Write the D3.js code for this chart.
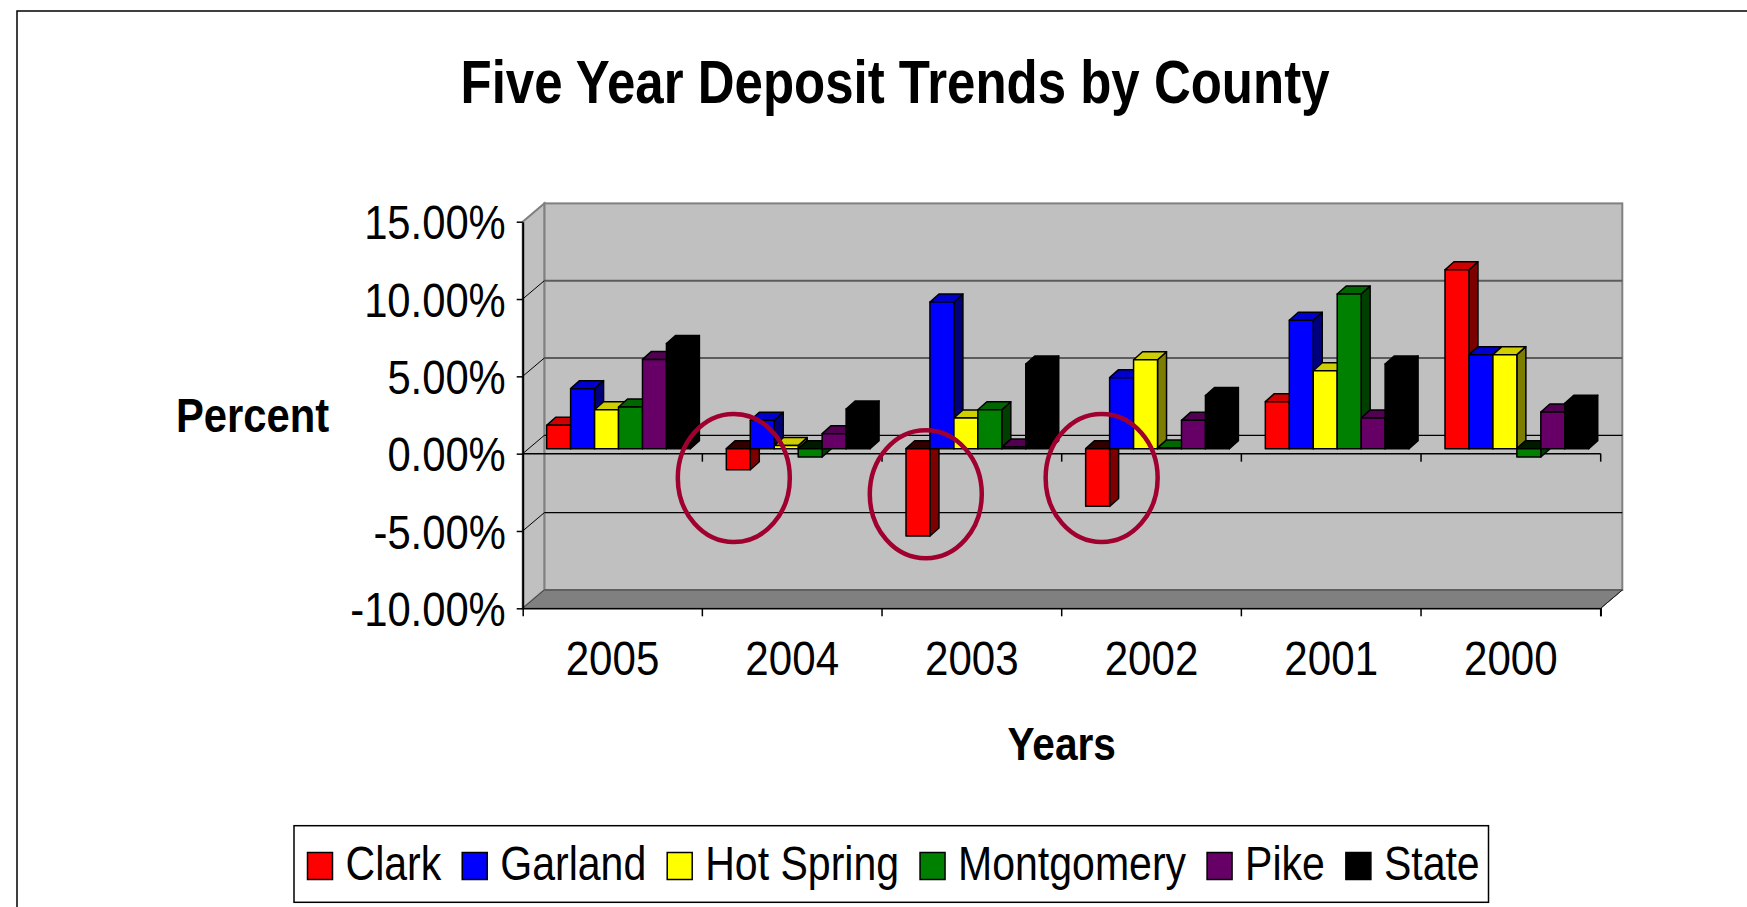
<!DOCTYPE html>
<html>
<head>
<meta charset="utf-8">
<script src="https://cdn.jsdelivr.net/npm/d3@7"></script>
<style>
  body { margin: 0; background: #fff; }
  svg text { font-family: "Liberation Sans", Arial, sans-serif; fill: #000; }
</style>
</head>
<body>
<svg id="chart" width="1747" height="907"></svg>
<script>
// data (percent change)
const years = ["2005", "2004", "2003", "2002", "2001", "2000"];
const series = ["Clark", "Garland", "Hot Spring", "Montgomery", "Pike", "State"];
const clark = [1.51, -1.36, -5.65, -3.73, 3.04, 11.57];
const garland = [3.88, 1.83, 9.48, 4.59, 8.30, 6.08];
const hotSpring = [2.52, 0.2, 1.98, 5.75, 5.04, 6.08];
const montgomery = [2.69, -0.54, 2.52, 0.05, 10.0, -0.54];
const pike = [5.77, 0.97, 0.1, 1.83, 1.98, 2.37];
const state = [6.8, 2.56, 5.47, 3.43, 5.47, 2.93];
const yTicks = [-10, -5, 0, 5, 10, 15];
// red rings drawn round the negative Clark years
const circledYears = ["2004", "2003", "2002"];
const circledValues = [-1.9, -2.95, -1.9];

const values = [clark, garland, hotSpring, montgomery, pike, state];
const colors = ["#ff0000", "#0000ff", "#ffff00", "#008000", "#660066", "#000000"];

const svg = d3.select("#chart");
const x0 = 522.7, x1 = 1600.7, yTop = 221.7, yBot = 608.3;
const dx = 21.6, dy = 18.3;       // wall depth
const sx = 6, sy = 5;             // bars sit a bit behind the front edge
const bdx = 9, bdy = 8;           // bar depth

const x = d3.scaleBand().domain(years).range([x0, x1]);
const xs = d3.scaleBand().domain(series).range([0, x.bandwidth()]).paddingOuter(0.75);
const y = d3.scaleLinear().domain([-10, 15]).range([yBot, yTop]);

// outer frame
svg.append("rect").attr("x", 17).attr("y", 11).attr("width", 1800).attr("height", 1000)
  .attr("fill", "none").attr("stroke", "#000").attr("stroke-width", 1.5);

// title
svg.append("text").attr("x", 895).attr("y", 102.5).attr("text-anchor", "middle")
  .attr("font-size", 62).attr("font-weight", "bold")
  .attr("textLength", 869).attr("lengthAdjust", "spacingAndGlyphs")
  .text("Five Year Deposit Trends by County");

// back wall
svg.append("rect").attr("x", x0 + dx).attr("y", yTop - dy)
  .attr("width", x1 - x0).attr("height", yBot - yTop)
  .attr("fill", "#c0c0c0").attr("stroke", "#808080").attr("stroke-width", 2);
// side wall
svg.append("path")
  .attr("d", `M${x0},${yTop}L${x0 + dx},${yTop - dy}L${x0 + dx},${yBot - dy}L${x0},${yBot}Z`)
  .attr("fill", "#c0c0c0").attr("stroke", "#808080").attr("stroke-width", 2);
// floor
svg.append("path")
  .attr("d", `M${x0},${yBot}L${x0 + dx},${yBot - dy}L${x1 + dx},${yBot - dy}L${x1},${yBot}Z`)
  .attr("fill", "#808080").attr("stroke", "#404040").attr("stroke-width", 1);

// gridlines on back wall and side wall
[-5, 0, 5, 10].forEach(function (v) {
  const col = v > 0 ? "#5c5c5c" : "#000";
  const sw = v > 0 ? 2 : 1.2;
  svg.append("line").attr("x1", x0 + dx).attr("x2", x1 + dx)
    .attr("y1", y(v) - dy).attr("y2", y(v) - dy)
    .attr("stroke", col).attr("stroke-width", sw);
  svg.append("line").attr("x1", x0).attr("x2", x0 + dx)
    .attr("y1", y(v)).attr("y2", y(v) - dy)
    .attr("stroke", "#000").attr("stroke-width", 1);
});

// zero line along the front with category ticks
svg.append("line").attr("x1", x0).attr("x2", x1).attr("y1", y(0)).attr("y2", y(0))
  .attr("stroke", "#000").attr("stroke-width", 1.5);
years.slice(1).map(d => x(d)).concat([x1]).forEach(function (px) {
  svg.append("line").attr("x1", px).attr("x2", px).attr("y1", y(0)).attr("y2", y(0) + 8)
    .attr("stroke", "#000").attr("stroke-width", 1.5);
  svg.append("line").attr("x1", px).attr("x2", px).attr("y1", yBot).attr("y2", yBot + 8)
    .attr("stroke", "#000").attr("stroke-width", 1.5);
});

// y axis
const gy = svg.append("g").attr("transform", `translate(${x0},0)`)
  .call(d3.axisLeft(y).tickValues(yTicks).tickSizeInner(6).tickSizeOuter(0)
    .tickFormat(d => d.toFixed(2) + "%"));
gy.select(".domain").attr("stroke", "#000").attr("stroke-width", 2);
gy.selectAll(".tick line").attr("stroke", "#000").attr("stroke-width", 1.5);
gy.selectAll(".tick text")
  .attr("x", -19.5).attr("dy", "0.36em")
  .attr("font-size", 48).attr("font-family", '"Liberation Sans", Arial, sans-serif')
  .attr("transform", "scale(0.87,1)");

// x axis (labels + front bottom edge)
const gx = svg.append("g").attr("transform", `translate(0,${yBot})`)
  .call(d3.axisBottom(x).tickSizeInner(0).tickSizeOuter(8));
gx.select(".domain").attr("stroke", "#000").attr("stroke-width", 1.5);
gx.selectAll(".tick text")
  .attr("y", 66.7).attr("dy", 0)
  .attr("font-size", 49).attr("font-family", '"Liberation Sans", Arial, sans-serif')
  .attr("transform", "scale(0.86,1)");
// right floor edge
svg.append("line").attr("x1", x1).attr("y1", yBot).attr("x2", x1 + dx).attr("y2", yBot - dy)
  .attr("stroke", "#202020").attr("stroke-width", 1);

// axis titles
svg.append("text").attr("text-anchor", "middle").attr("font-size", 48).attr("font-weight", "bold")
  .attr("transform", "translate(252.5,431.7) scale(0.87,1)").text("Percent");
svg.append("text").attr("text-anchor", "middle").attr("font-size", 47).attr("font-weight", "bold")
  .attr("transform", `translate(${(x0 + x1) / 2},760) scale(0.865,1)`).text("Years");

// 3d bars
const gBars = svg.append("g").attr("stroke", "#000").attr("stroke-width", 1.5)
  .attr("stroke-linejoin", "round");
const w = xs.bandwidth();
years.forEach(function (yr, j) {
  series.forEach(function (s, i) {
    const v = values[i][j];
    const c = d3.color(colors[i]);
    const xl = x(yr) + xs(s) + sx;
    const yb = y(0) - sy;
    const yt = y(v) - sy;
    const hi = Math.min(yb, yt), lo = Math.max(yb, yt);
    // side
    gBars.append("path")
      .attr("d", `M${xl + w},${hi}L${xl + w + bdx},${hi - bdy}L${xl + w + bdx},${lo - bdy}L${xl + w},${lo}Z`)
      .attr("fill", c.darker(2));
    // top
    gBars.append("path")
      .attr("d", `M${xl},${hi}L${xl + bdx},${hi - bdy}L${xl + w + bdx},${hi - bdy}L${xl + w},${hi}Z`)
      .attr("fill", v >= 0 ? c.darker(0.6) : c.darker(4.5));
    // front
    gBars.append("rect").attr("x", xl).attr("y", hi).attr("width", w).attr("height", lo - hi)
      .attr("fill", c);
  });
});

// red rings
const ringShift = [-4.5, 7.8, 4];
circledYears.forEach(function (yr, k) {
  svg.append("ellipse")
    .attr("cx", x(yr) + xs("Clark") + sx + w / 2 + ringShift[k])
    .attr("cy", y(circledValues[k]) - sy)
    .attr("rx", 56).attr("ry", 64)
    .attr("fill", "none").attr("stroke", "#a00030").attr("stroke-width", 4.5);
});

// legend
const lg = svg.append("g");
lg.append("rect").attr("x", 294).attr("y", 825.7).attr("width", 1194.5).attr("height", 76.6)
  .attr("fill", "#fff").attr("stroke", "#000").attr("stroke-width", 1.5);
let cx = 307.5;
series.forEach(function (s, i) {
  lg.append("rect").attr("x", cx).attr("y", 852.5).attr("width", 25).attr("height", 27)
    .attr("fill", colors[i]).attr("stroke", "#000").attr("stroke-width", 1.5);
  const t = lg.append("text").attr("font-size", 48)
    .attr("transform", `translate(${cx + 38},880) scale(0.855,1)`).text(s);
  cx += 38 + t.node().getComputedTextLength() * 0.855 + 21;
});
</script>
</body>
</html>
